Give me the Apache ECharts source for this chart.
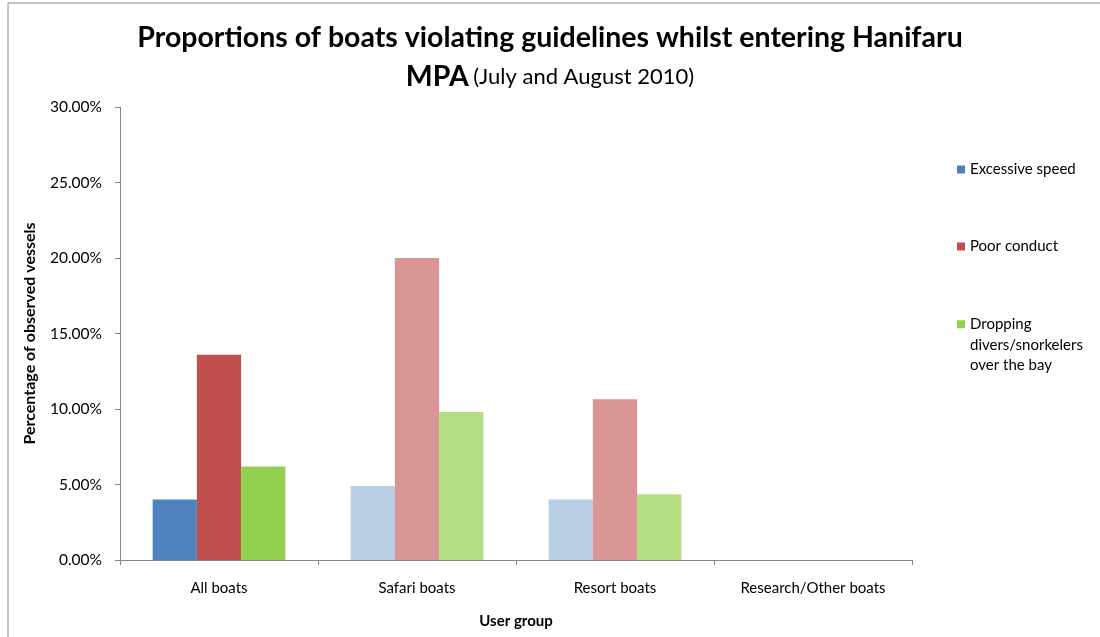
<!DOCTYPE html>
<html><head><meta charset="utf-8">
<script src="https://cdn.jsdelivr.net/npm/echarts@6/dist/echarts.min.js"></script>
<style>html,body{margin:0;padding:0;background:#fff}#c{width:1100px;height:637px}</style>
</head><body><div id="c"></div>
<script>
var categories = ['All boats', 'Safari boats', 'Resort boats', 'Research/Other boats'];
var seriesNames = ['Excessive speed', 'Poor conduct', 'Dropping divers/snorkelers over the bay'];
var excessiveSpeed = [4.0, 4.9, 4.0, 0];
var poorConduct = [13.6, 20.0, 10.65, 0];
var droppingDivers = [6.2, 9.8, 4.35, 0];
var yTicks = [0, 5, 10, 15, 20, 25, 30];

var baseColors = ['#4F81BD', '#C0504D', '#92D050'];
var lightColors = ['#B9CDE5', '#DA9694', '#B3DE81'];
var FONT = 'Lato';

function mk(i, vals) {
  return {
    name: seriesNames[i], type: 'bar', barGap: '0%', barCategoryGap: '33%',
    itemStyle: { color: baseColors[i] },
    data: vals.map(function (v, k) {
      return { value: v, itemStyle: { color: k === 0 ? baseColors[i] : lightColors[i] } };
    })
  };
}

var legendText = { fontFamily: FONT, fontSize: 15, color: '#000' };

var chart = echarts.init(document.getElementById('c'));
chart.setOption({
  animation: false,
  textStyle: { fontFamily: FONT },
  graphic: [{ type: 'rect', shape: { x: 8, y: 3, width: 1200, height: 700 }, style: { fill: 'none', stroke: '#8a8a8a', lineWidth: 1 }, silent: true }],
  title: {
    left: 'center', top: 13,
    text: '{a|Proportions of boats violating guidelines whilst entering Hanifaru}\n{a|MPA} {b|(July and August 2010)}',
    textStyle: {
      rich: {
        a: { fontFamily: FONT, fontWeight: 'bold', fontSize: 28.5, color: '#000', lineHeight: 39 },
        b: { fontFamily: FONT, fontWeight: 'normal', fontSize: 22, color: '#000', lineHeight: 39 }
      }
    }
  },
  legend: [
    { data: [seriesNames[0]], orient: 'vertical', left: 952, top: 157, itemWidth: 8, itemHeight: 8, icon: 'rect', textStyle: legendText },
    { data: [seriesNames[1]], orient: 'vertical', left: 952, top: 234, itemWidth: 8, itemHeight: 8, icon: 'rect', textStyle: legendText },
    { data: [seriesNames[2]], orient: 'vertical', left: 952, top: 268, itemWidth: 8, itemHeight: 8, icon: 'rect',
      formatter: function () { return '\n\nDropping\ndivers/snorkelers\nover the bay'; },
      textStyle: { fontFamily: FONT, fontSize: 15, color: '#000', lineHeight: 20.5 } }
  ],
  grid: { left: 120, right: 188, top: 107, bottom: 77 },
  xAxis: {
    type: 'category', data: categories,
    name: 'User group', nameLocation: 'middle', nameGap: 54,
    nameTextStyle: { fontFamily: FONT, fontWeight: 'bold', fontSize: 15, color: '#000' },
    axisLine: { lineStyle: { color: '#868686', width: 1 } },
    axisTick: { show: true, alignWithLabel: false, length: 5, lineStyle: { color: '#868686' } },
    axisLabel: { fontFamily: FONT, fontSize: 15, color: '#000', margin: 21 }
  },
  yAxis: {
    type: 'value', min: 0, max: 30, interval: 5,
    name: 'Percentage of observed vessels', nameLocation: 'middle', nameGap: 82, nameRotate: 90,
    nameTextStyle: { fontFamily: FONT, fontWeight: 'bold', fontSize: 16, color: '#000' },
    axisLine: { show: true, lineStyle: { color: '#868686', width: 1 } },
    axisTick: { show: true, length: 5, lineStyle: { color: '#868686' } },
    splitLine: { show: false },
    axisLabel: { fontFamily: FONT, fontSize: 15.5, color: '#000', margin: 18,
      formatter: function (v) { return yTicks.indexOf(v) >= 0 ? v.toFixed(2) + '%' : ''; } }
  },
  series: [mk(0, excessiveSpeed), mk(1, poorConduct), mk(2, droppingDivers)]
});
</script></body></html>
